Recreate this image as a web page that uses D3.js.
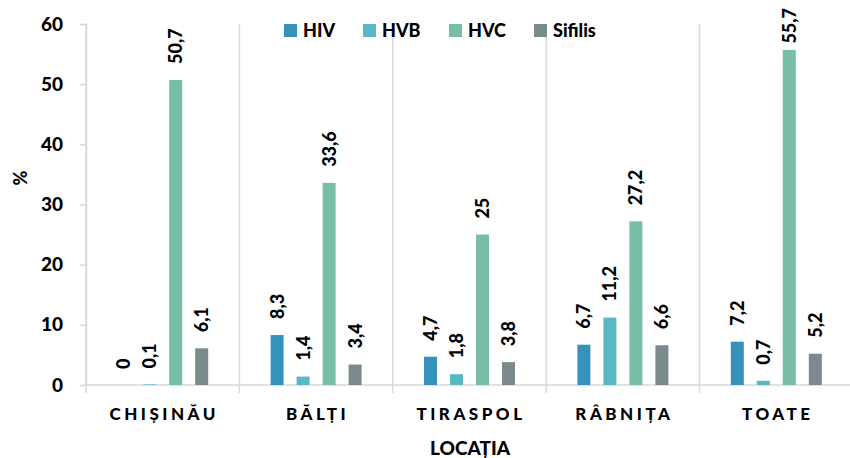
<!DOCTYPE html>
<html>
<head>
<meta charset="utf-8">
<script src="https://cdn.jsdelivr.net/npm/d3@7"></script>
<style>
  body { margin: 0; background: #fff; }
  text { font-family: Lato, "Noto Sans", sans-serif; font-weight: 900; fill: #000; }
</style>
</head>
<body>
<div id="chart"></div>
<script>
// data
var locations = ['CHIȘINĂU', 'BĂLȚI', 'TIRASPOL', 'RÂBNIȚA', 'TOATE'];
var series = ['HIV', 'HVB', 'HVC', 'Sifilis'];
var hiv = [0, 8.3, 4.7, 6.7, 7.2];
var hvb = [0.1, 1.4, 1.8, 11.2, 0.7];
var hvc = [50.7, 33.6, 25, 27.2, 55.7];
var sifilis = [6.1, 3.4, 3.8, 6.6, 5.2];
var yTicks = [0, 10, 20, 30, 40, 50, 60];

var colors = { HIV: '#3593bb', HVB: '#58b8c3', HVC: '#78bea7', Sifilis: '#7b8a8c' };

var svgWidth = 850, svgHeight = 458;
var margin = { top: 24, right: 0, bottom: 73, left: 86 };
var plotRight = 853;

var svg = d3.select('#chart').append('svg')
  .attr('width', svgWidth)
  .attr('height', svgHeight);

var rows = locations.map(function(loc, i) {
  return { loc: loc, values: [hiv[i], hvb[i], hvc[i], sifilis[i]] };
});

var x0 = d3.scaleBand()
  .domain(locations)
  .range([margin.left, plotRight]);

var x1 = d3.scaleBand()
  .domain(series)
  .range([-52, 52])
  .paddingInner(0.5)
  .paddingOuter(0.25);

var y = d3.scaleLinear()
  .domain([0, 60])
  .range([svgHeight - margin.bottom, margin.top]);

var y0 = y(0);

// vertical separators between categories
var seps = locations.map(function(d) { return x0(d); }).concat([x0(locations[4]) + x0.bandwidth()]);
svg.selectAll('line.sep').data(seps).enter()
  .append('line')
  .attr('class', 'sep')
  .attr('x1', d => d).attr('x2', d => d)
  .attr('y1', margin.top).attr('y2', y0 + 8)
  .attr('stroke', '#d9d9d9')
  .attr('stroke-width', 1.5);

// x baseline
svg.append('line')
  .attr('x1', margin.left).attr('x2', plotRight)
  .attr('y1', y0).attr('y2', y0)
  .attr('stroke', '#d9d9d9')
  .attr('stroke-width', 1.5);

// y axis
var leftAxis = d3.axisLeft(y).tickValues(yTicks).tickSize(6).tickPadding(17);
var yAxisG = svg.append('g')
  .attr('transform', 'translate(' + margin.left + ',0)')
  .call(leftAxis);
yAxisG.select('.domain').attr('stroke', '#d9d9d9').attr('stroke-width', 1.5);
yAxisG.selectAll('.tick line').attr('stroke', '#d9d9d9').attr('stroke-width', 1.5);
yAxisG.selectAll('.tick text')
  .style('font-size', '19px')
  .style('font-family', 'Lato, "Noto Sans", sans-serif')
  .style('font-weight', '900')
  .attr('fill', '#000');

// bars
var groups = svg.selectAll('g.loc').data(rows).enter()
  .append('g')
  .attr('class', 'loc')
  .attr('transform', d => 'translate(' + (x0(d.loc) + x0.bandwidth() / 2) + ',0)');

var cells = groups.selectAll('g.cell')
  .data(d => d.values.map((v, i) => ({ key: series[i], value: v })))
  .enter().append('g').attr('class', 'cell');

cells.append('rect')
  .attr('x', d => x1(d.key))
  .attr('width', x1.bandwidth())
  .attr('y', d => y(d.value))
  .attr('height', d => y0 - y(d.value))
  .attr('fill', d => colors[d.key]);

var fmt = d3.format('.1~f');
cells.append('text')
  .style('font-size', '18px')
  .text(d => fmt(d.value).replace('.', ','))
  .attr('transform', function(d) {
    var len = this.getComputedTextLength();
    // labels sit ~16px above the bar, but stay inside the chart area
    var base = Math.max(y(d.value) - 16, 8 + len);
    return 'translate(' + (x1(d.key) + x1.bandwidth() / 2 + 6.5) + ',' + base + ') rotate(-90)';
  });

// category labels
svg.selectAll('text.cat').data(locations).enter()
  .append('text')
  .attr('class', 'cat')
  .attr('x', d => x0(d) + x0.bandwidth() / 2 + 1.5)
  .attr('y', 420)
  .attr('text-anchor', 'middle')
  .style('font-size', '17px')
  .style('letter-spacing', '3.5px')
  .text(d => d);

// axis titles
svg.append('text')
  .attr('x', 470).attr('y', 455)
  .attr('text-anchor', 'middle')
  .style('font-size', '19px')
  .text('LOCAȚIA');

svg.append('text')
  .attr('transform', 'translate(27,178) rotate(-90)')
  .attr('text-anchor', 'middle')
  .style('font-size', '18px')
  .text('%');

// legend
var legendX = [284, 363, 449, 534];
var legend = svg.selectAll('g.leg').data(series).enter()
  .append('g')
  .attr('class', 'leg')
  .attr('transform', (d, i) => 'translate(' + legendX[i] + ',24)');
legend.append('rect')
  .attr('width', 13).attr('height', 13)
  .attr('fill', d => colors[d]);
legend.append('text')
  .attr('x', 19).attr('y', 13)
  .style('font-size', '18px')
  .text(d => d);
</script>
</body>
</html>
